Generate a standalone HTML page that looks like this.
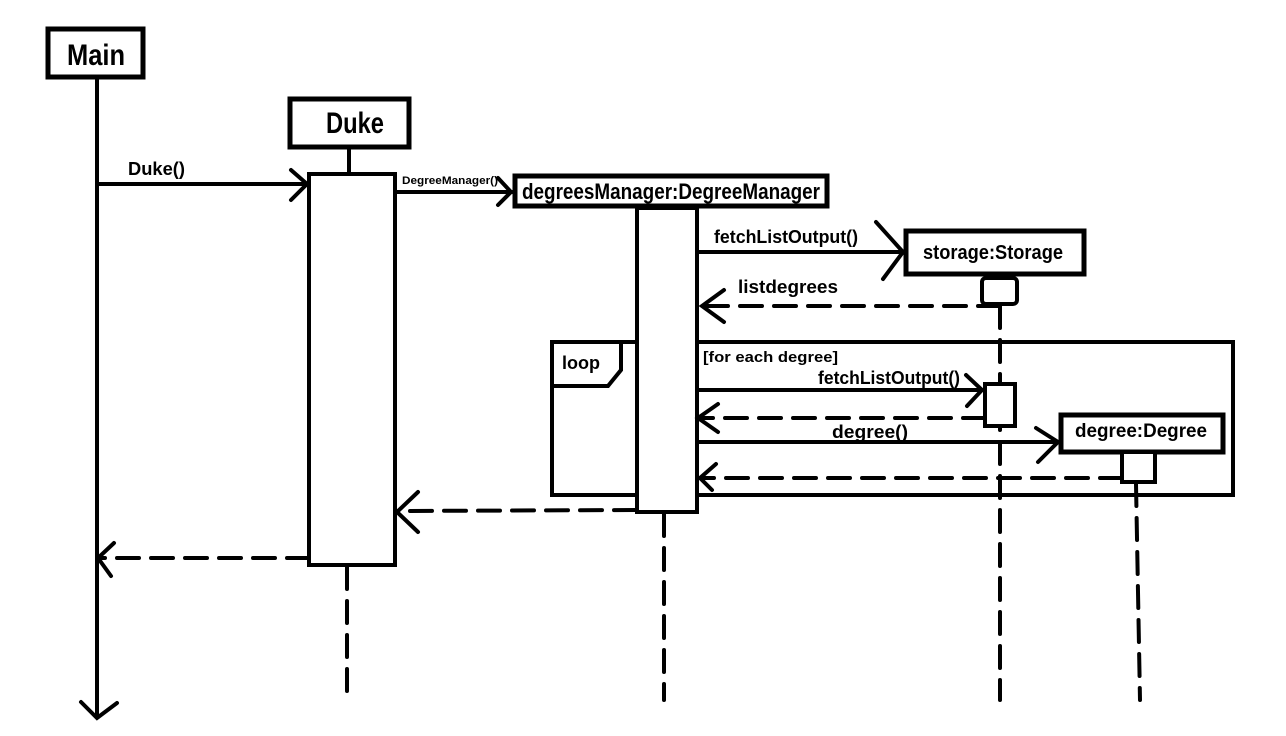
<!DOCTYPE html>
<html><head><meta charset="utf-8"><style>
html,body{margin:0;padding:0;background:#fff;}
svg{display:block;}
text{font-family:"Liberation Sans Narrow","Liberation Sans",sans-serif;font-weight:bold;fill:#000;}
</style></head><body>
<svg width="1286" height="736" viewBox="0 0 1286 736" xmlns="http://www.w3.org/2000/svg">
<g fill="none" stroke="#000" stroke-width="4" stroke-linecap="round">
<rect x="48" y="29" width="95" height="48" stroke-width="5"/>
<line x1="97" y1="78" x2="97" y2="717"/>
<polyline points="81,702 97,718 117,703"/>
<rect x="290" y="99" width="119" height="48" stroke-width="5"/>
<line x1="349" y1="147" x2="349" y2="174"/>
<rect x="309" y="174" width="86" height="391"/>
<line x1="347" y1="567" x2="347" y2="700" stroke-dasharray="22,12"/>
<line x1="97" y1="184" x2="307" y2="184"/>
<polyline points="291,170 307,184 291,200"/>
<line x1="395" y1="192" x2="512" y2="192"/>
<polyline points="498,178 511,192 498,205"/>
<rect x="515" y="176" width="312" height="30" stroke-width="5"/>
<rect x="637" y="208" width="60" height="304"/>
<line x1="664" y1="514" x2="664" y2="700" stroke-dasharray="22,12"/>
<line x1="697" y1="252" x2="903" y2="252"/>
<polyline points="876,222 903,252 883,279"/>
<rect x="906" y="231" width="178" height="43" stroke-width="5"/>
<rect x="982" y="278" width="35" height="26" rx="4"/>
<line x1="1000" y1="306" x2="702" y2="306" stroke-dasharray="22,12"/>
<polyline points="724,290 702,306 724,322"/>
<line x1="1000" y1="306" x2="1000" y2="700" stroke-dasharray="22,12"/>
<polyline points="636,342 552,342 552,495 636,495"/>
<polyline points="697,342 1233,342 1233,495 697,495"/>
<polyline points="553,386 608,386 621,370 621,344"/>
<line x1="697" y1="390" x2="982" y2="390"/>
<polyline points="966,375 982,390 967,406"/>
<rect x="985" y="384" width="30" height="42" fill="#fff"/>
<line x1="985" y1="418" x2="699" y2="418" stroke-dasharray="22,12"/>
<polyline points="718,404 698,418 718,432"/>
<line x1="697" y1="442" x2="1058" y2="442"/>
<polyline points="1036,428 1058,442 1038,462"/>
<rect x="1061" y="415" width="162" height="37" stroke-width="5" fill="#fff"/>
<rect x="1122" y="452" width="33" height="30" fill="#fff"/>
<line x1="1122" y1="478" x2="700" y2="478" stroke-dasharray="22,12"/>
<polyline points="716,464 700,478 712,490"/>
<line x1="1136" y1="484" x2="1140" y2="700" stroke-dasharray="22,12"/>
<line x1="636" y1="510" x2="397" y2="511" stroke-dasharray="22,12"/>
<polyline points="418,492 397,512 418,532"/>
<line x1="309" y1="558" x2="98" y2="558" stroke-dasharray="22,12"/>
<polyline points="114,543 98,558 111,576"/>
</g>
<g>
<text x="67" y="65" font-size="30" textLength="58" lengthAdjust="spacingAndGlyphs">Main</text>
<text x="326" y="133" font-size="30" textLength="58" lengthAdjust="spacingAndGlyphs">Duke</text>
<text x="128" y="175" font-size="18" textLength="57" lengthAdjust="spacingAndGlyphs">Duke()</text>
<text x="402" y="184" font-size="11" textLength="96" lengthAdjust="spacingAndGlyphs">DegreeManager()</text>
<text x="522" y="199" font-size="22" textLength="298" lengthAdjust="spacingAndGlyphs">degreesManager:DegreeManager</text>
<text x="714" y="243" font-size="18" textLength="144" lengthAdjust="spacingAndGlyphs">fetchListOutput()</text>
<text x="923" y="259" font-size="20" textLength="140" lengthAdjust="spacingAndGlyphs">storage:Storage</text>
<text x="738" y="293" font-size="18" textLength="100" lengthAdjust="spacingAndGlyphs">listdegrees</text>
<text x="562" y="369" font-size="18" textLength="38" lengthAdjust="spacingAndGlyphs">loop</text>
<text x="703" y="362" font-size="15" textLength="135" lengthAdjust="spacingAndGlyphs">[for each degree]</text>
<text x="818" y="384" font-size="18" textLength="142" lengthAdjust="spacingAndGlyphs">fetchListOutput()</text>
<text x="832" y="438" font-size="18" textLength="76" lengthAdjust="spacingAndGlyphs">degree()</text>
<text x="1075" y="437" font-size="19" textLength="132" lengthAdjust="spacingAndGlyphs">degree:Degree</text>
</g>
</svg>
</body></html>
